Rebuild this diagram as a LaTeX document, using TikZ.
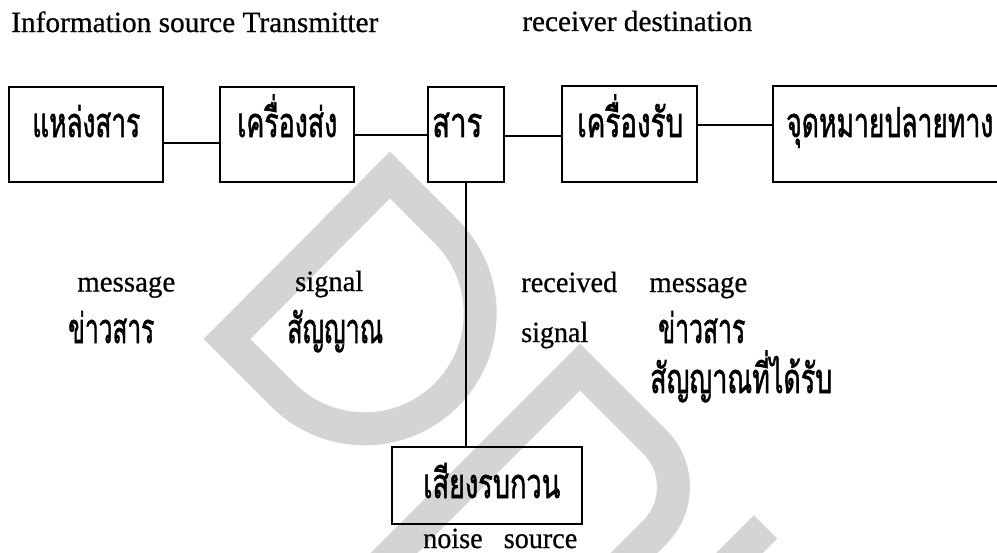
\documentclass[tikz,border=0pt]{standalone}
\usepackage{fontspec}
\usepackage{graphicx}
\setmainfont[FakeBold=0.6]{Liberation Serif}
\newfontfamily\thaifont[Script=Thai,FakeBold=1.6]{Loma}
\newcommand\fitw[2]{\resizebox{#1pt}{\height}{#2}}
\definecolor{wmgray}{RGB}{212,212,212}
\begin{document}
\begin{tikzpicture}[x=0.75pt,y=-0.75pt,
  box/.style={draw, line width=1.1pt, inner sep=0pt, minimum height=71.25pt},
  conn/.style={line width=1.1pt},
  lbl/.style={anchor=base west, inner sep=0pt, font=\fontsize{22pt}{26pt}\selectfont},
  th/.style={anchor=base west, inner sep=0pt, font=\thaifont\fontsize{31pt}{36pt}\selectfont},
  wm/.style={draw=wmgray, line width=24.75pt, miter limit=10}]
\useasboundingbox (0,0) rectangle (997,553);
\fill[white] (0,0) rectangle (997,553);
\begin{scope}
\clip (0,0) rectangle (997,553);
% watermark
\draw[wm] (390,175) -- (227,339) -- (283,395) arc[start angle=135, end angle=-45, radius=115.5] -- cycle;
\draw[wm] (347,600) -- (580,367) -- (654.7,441.7) arc[start angle=-45, end angle=45, radius=64] -- (587,600);
\draw[wm] (765.5,527) -- (690,602.5);
% boxes
\node[box, minimum width=115.5pt] (b1) at (86,134.5) {};
\node[box, minimum width=100.5pt] (b2) at (287,134.5) {};
\node[box, minimum width=57pt] (b3) at (466,134.5) {};
\node[box, minimum width=101.25pt, minimum height=72pt] (b4) at (629.5,134) {};
\node[box, minimum width=177.75pt, minimum height=72pt] (b5) at (891.5,134) {};
\node[box, minimum width=142.5pt, minimum height=57.75pt] (b6) at (487,485.5) {};
% connector levels
\coordinate (y12) at (0,143);
\coordinate (y23) at (0,135);
\coordinate (y34) at (0,136);
\coordinate (y45) at (0,125);
\draw[conn] (b1.east |- y12) -- (b2.west |- y12);
\draw[conn] (b2.east |- y23) -- (b3.west |- y23);
\draw[conn] (b3.east |- y34) -- (b4.west |- y34);
\draw[conn] (b4.east |- y45) -- (b5.west |- y45);
\draw[conn] (b3.south) -- (b3.south |- b6.north);
% box texts
\node[th] (t1) at (32,137) {\fitw{81}{แหล่งสาร}};
\node[th] (t2) at (237,137) {\fitw{75}{เครื่องส่ง}};
\node[th] (t3) at (432,137) {\fitw{37.5}{สาร}};
\node[th] (t4) at (577,137) {\fitw{79.5}{เครื่องรับ}};
\node[th] (t5) at (786,137) {\fitw{155.25}{จุดหมายปลายทาง}};
\node[th] (t6) at (423,498) {\fitw{102.75}{เสียงรบกวน}};
% headers
\node[lbl] (h1) at (11,32) {\fitw{275.25}{Information source Transmitter}};
\node[lbl] (h2) at (522,31) {\fitw{172.5}{receiver destination}};
% middle labels
\node[lbl] (m1) at (77,291.5) {\fitw{73.5}{message}};
\node[lbl] (m2) at (295,291) {\fitw{51}{signal}};
\node[lbl] (m3) at (521,292) {\fitw{72}{received}};
\node[lbl] (m4) at (649,292) {\fitw{73.5}{message}};
\node[lbl] (m5) at (521,342) {\fitw{50.25}{signal}};
\node[th] (m6) at (68,343) {\fitw{64.5}{ข่าวสาร}};
\node[th] (m7) at (287,343) {\fitw{72}{สัญญาณ}};
\node[th] (m8) at (658,343) {\fitw{65.25}{ข่าวสาร}};
\node[th] (m9) at (650,393) {\fitw{136.5}{สัญญาณที่ได้รับ}};
\node[lbl] (n1) at (423,548) {\fitw{115.5}{noise\hspace{0.75em}source}};
\end{scope}
\end{tikzpicture}
\end{document}
